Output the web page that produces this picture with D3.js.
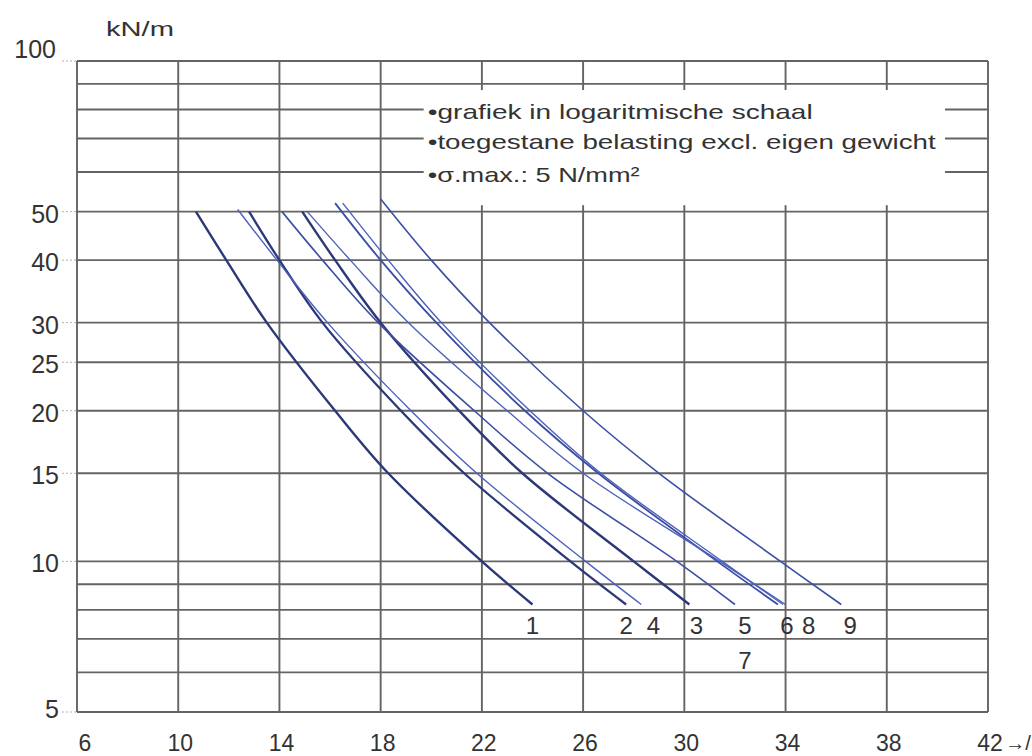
<!DOCTYPE html>
<html>
<head>
<meta charset="utf-8">
<script src="https://cdn.jsdelivr.net/npm/d3@7"></script>
<style>
  html, body { margin: 0; padding: 0; background: #fff; }
  svg { display: block; }
  text { font-family: "Liberation Sans", Arial, sans-serif; fill: #333; }
</style>
</head>
<body>
<svg id="chart" width="1032" height="756"></svg>
<script>
// Allowed load (kN/m, log scale) against span (x axis) for nine beam types.
const loadLevels = [50, 40, 30, 20, 15, 10, 8.2];

const curveNames = ["1", "2", "3", "4", "5", "6", "7", "8", "9"];
// Load at which each curve starts (some start just above 50 kN/m).
const startLoad = [50, 50, 50, 50.5, 50, 52, 52, 50, 53];
// Span reached at each load level in loadLevels, per curve
// (first entry is the span at the curve's start load).
const span1 = [10.7, 11.9, 13.5, 16.2, 18.3, 22.0, 24.0];
const span2 = [12.8, 14.0, 15.7, 18.8, 21.3, 25.5, 27.7];
const span3 = [14.9, 16.2, 18.0, 21.1, 23.6, 28.0, 30.2];
const span4 = [12.35, 13.9, 15.9, 19.2, 21.8, 26.1, 28.3];
const span5 = [14.1, 15.7, 17.9, 21.7, 24.6, 29.7, 32.0];
const span6 = [16.2, 18.0, 20.2, 23.7, 26.6, 31.3, 33.7];
const span7 = [16.5, 18.3, 20.4, 23.9, 26.7, 31.5, 33.9];
const span8 = [15.1, 16.8, 19.1, 23.0, 26.0, 31.4, 34.0];
const span9 = [18.0, 20.0, 22.3, 26.0, 29.0, 33.8, 36.2];
const curveSpans = [span1, span2, span3, span4, span5, span6, span7, span8, span9];
const curveWeight = [2.4, 2.3, 2.4, 1.4, 1.6, 1.8, 1.4, 1.4, 1.6];

const xTicks = [6, 10, 14, 18, 22, 26, 30, 34, 38, 42];
const yLabelTicks = [100, 50, 40, 30, 25, 20, 15, 10, 5];
const yGridLines = [100, 90, 80, 70, 60, 50, 40, 30, 25, 20, 15, 10, 9, 8, 7, 6, 5];
const noteLines = [
  "\u2022grafiek in logaritmische schaal",
  "\u2022toegestane belasting excl. eigen gewicht",
  "\u2022\u03C3.max.: 5 N/mm\u00B2"
];

const svg = d3.select("#chart");
const plotLeft = 77, plotRight = 988, plotTop = 61, plotBottom = 712;

const x = d3.scaleLinear().domain([6, 42]).range([plotLeft, plotRight]);
const y = d3.scaleLog().domain([5, 100]).range([plotBottom, plotTop]);

const gridColor = "#646464";
const grid = svg.append("g");

// horizontal grid lines
grid.selectAll("line.h").data(yGridLines).enter().append("line")
  .attr("x1", plotLeft).attr("x2", plotRight)
  .attr("y1", d => y(d)).attr("y2", d => y(d))
  .attr("stroke", gridColor).attr("stroke-width", 1.9);

// vertical grid lines
grid.selectAll("line.v").data(xTicks).enter().append("line")
  .attr("x1", d => x(d)).attr("x2", d => x(d))
  .attr("y1", plotTop).attr("y2", plotBottom)
  .attr("stroke", gridColor).attr("stroke-width", 1.9);

// note block: white panel interrupting the grid
const noteBox = { x0: x(19.7), x1: x(40.3), y0: y(87.5), y1: y(51.5) };
svg.append("rect")
  .attr("x", noteBox.x0).attr("y", noteBox.y0)
  .attr("width", noteBox.x1 - noteBox.x0).attr("height", noteBox.y1 - noteBox.y0)
  .attr("fill", "#fff");

const noteWidths = [385, 508, 212];
svg.append("g").selectAll("text").data(noteLines).enter().append("text")
  .attr("x", noteBox.x0 + 4)
  .attr("y", (d, i) => y([80, 70, 60][i]) + 10)
  .attr("font-size", 21)
  .attr("textLength", (d, i) => noteWidths[i])
  .attr("lengthAdjust", "spacingAndGlyphs")
  .text(d => d);

// small ticks left of the y axis
svg.append("g").selectAll("line").data(yLabelTicks).enter().append("line")
  .attr("x1", plotLeft - 15).attr("x2", plotLeft)
  .attr("y1", d => y(d)).attr("y2", d => y(d))
  .attr("stroke", "#b0b0b0").attr("stroke-width", 1).attr("stroke-dasharray", "2,2");

// y tick labels
svg.append("g").selectAll("text").data(yLabelTicks).enter().append("text")
  .attr("x", d => d === 100 ? 56 : 59)
  .attr("y", d => d === 100 ? 58 : y(d) + (d === 5 ? 6 : 11))
  .attr("text-anchor", "end")
  .attr("font-size", 25)
  .text(d => d);

// x tick labels
svg.append("g").selectAll("text").data(xTicks).enter().append("text")
  .attr("x", d => x(d) + (d === 6 ? 8 : 2))
  .attr("y", 751)
  .attr("text-anchor", "middle")
  .attr("font-size", 23)
  .text(d => d);

svg.append("text").attr("x", 1005).attr("y", 750).attr("font-size", 20)
  .attr("textLength", 26).attr("lengthAdjust", "spacingAndGlyphs").text("\u2192/");

// unit label
svg.append("text").attr("x", 106).attr("y", 36).attr("font-size", 21)
  .attr("textLength", 68).attr("lengthAdjust", "spacingAndGlyphs").text("kN/m");

// curves
const line = d3.line()
  .x(d => x(d[0]))
  .y(d => y(d[1]))
  .curve(d3.curveCatmullRom.alpha(0.5));

curveNames.forEach((name, i) => {
  const pts = curveSpans[i].map((s, j) => [s, j === 0 ? startLoad[i] : loadLevels[j]]);
  const w = curveWeight[i];
  svg.append("path")
    .datum(pts)
    .attr("d", line)
    .attr("fill", "none")
    .attr("stroke", w >= 2.2 ? "#2c3878" : (w >= 1.6 ? "#3c4ea4" : "#4d61bc"))
    .attr("stroke-width", w);
});

// curve numbers under the line ends (hand-placed shifts where ends crowd)
const labelShift = { "1": 0, "2": 0, "3": 7, "4": 12, "5": 10, "6": 9, "7": 10, "8": 23, "9": 9 };
curveNames.forEach((name, i) => {
  const endSpan = curveSpans[i][curveSpans[i].length - 1];
  const second = name === "7";
  const lx = second ? x(span5[span5.length - 1]) + labelShift[name] : x(endSpan) + labelShift[name];
  svg.append("text")
    .attr("x", lx)
    .attr("y", second ? 669 : 634)
    .attr("text-anchor", "middle")
    .attr("font-size", 24)
    .text(name);
});
</script>
</body>
</html>
